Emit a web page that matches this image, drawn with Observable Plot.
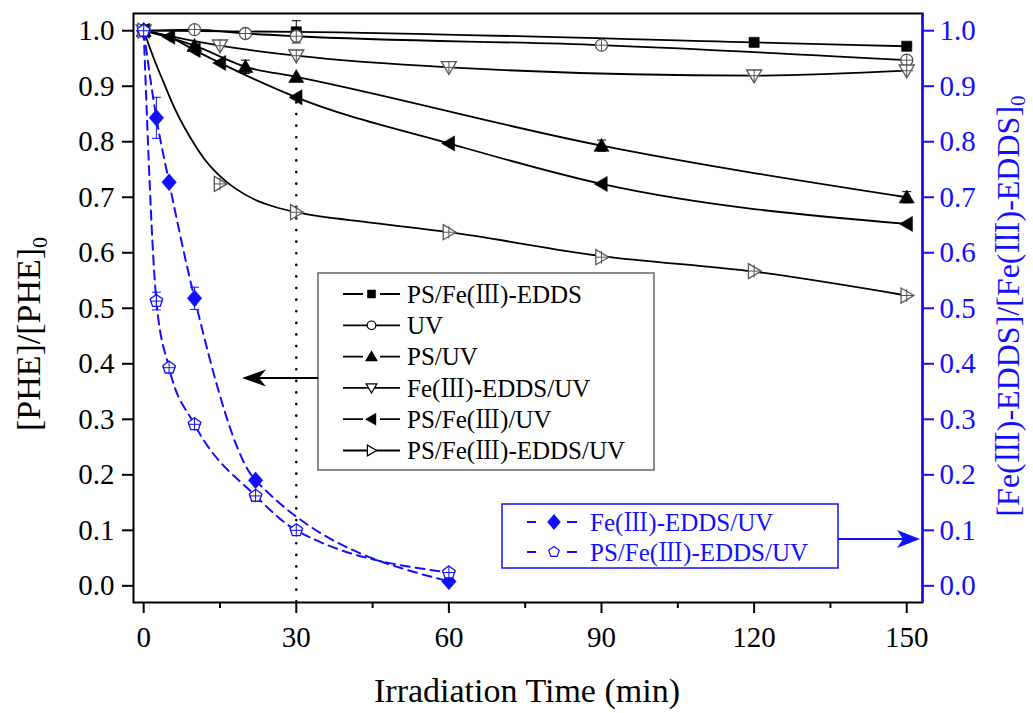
<!DOCTYPE html>
<html><head><meta charset="utf-8">
<script src="https://cdn.jsdelivr.net/npm/d3@7"></script>
<script src="https://cdn.jsdelivr.net/npm/@observablehq/plot@0.6"></script>
<style>
body{margin:0;background:#fff}
#chart{position:relative;width:1033px;height:713px}
</style>
</head><body><div id="chart"></div>
<script>
// ---------- tick labels ----------
const xTicks = [0, 30, 60, 90, 120, 150];
const xMinorTicks = [15, 45, 75, 105, 135];
const yTicks = [0, 0.1, 0.2, 0.3, 0.4, 0.5, 0.6, 0.7, 0.8, 0.9, 1.0];

// ---------- black series (left axis, [PHE]/[PHE]0) ----------
const psFeEddsT = [0, 30, 120, 150];
const psFeEddsV = [1.0, 0.998, 0.979, 0.972];
const psFeEddsE = [0, 0.02, 0, 0];

const uvT = [0, 10, 20, 30, 90, 150];
const uvV = [1.0, 1.002, 0.995, 0.990, 0.974, 0.947];
const uvE = [0, 0, 0, 0, 0, 0];

const psUvT = [0, 10, 20, 30, 90, 150];
const psUvV = [1.0, 0.973, 0.935, 0.917, 0.793, 0.700];
const psUvE = [0, 0, 0.012, 0, 0.01, 0.01];

const feEddsUvT = [0, 15, 30, 60, 120, 150];
const feEddsUvV = [1.0, 0.973, 0.955, 0.934, 0.919, 0.928];
const feEddsUvE = [0, 0, 0, 0, 0, 0];

const psFeUvT = [0, 5, 10, 15, 30, 60, 90, 150];
const psFeUvV = [1.0, 0.989, 0.965, 0.942, 0.880, 0.797, 0.724, 0.652];
const psFeUvE = [0, 0, 0, 0, 0, 0, 0, 0];

const psFeEddsUvT = [0, 15, 30, 60, 90, 120, 150];
const psFeEddsUvV = [1.0, 0.724, 0.673, 0.637, 0.592, 0.567, 0.523];
const psFeEddsUvE = [0, 0, 0, 0, 0, 0, 0];
// fitted curve of PS/Fe(III)-EDDS/UV
const psFeEddsUvFitT = [0, 2, 4, 6, 8, 10, 12, 14, 16, 18, 22, 26, 30, 45, 60, 90, 120, 150];
const psFeEddsUvFitV = [1.0, 0.95, 0.905, 0.862, 0.826, 0.795, 0.768, 0.747, 0.730, 0.716, 0.695, 0.682, 0.673, 0.654, 0.637, 0.594, 0.566, 0.523];

// ---------- blue series (right axis, [Fe(III)-EDDS]/[Fe(III)-EDDS]0) ----------
const bFeEddsUvT = [0, 2.5, 5, 10, 22, 60];
const bFeEddsUvV = [1.0, 0.843, 0.727, 0.518, 0.190, 0.008];
const bFeEddsUvE = [0, 0.037, 0, 0.02, 0, 0];

const bPsFeEddsUvT = [0, 2.5, 5, 10, 22, 30, 60];
const bPsFeEddsUvV = [1.0, 0.513, 0.393, 0.291, 0.162, 0.100, 0.024];
const bPsFeEddsUvE = [0, 0.016, 0, 0, 0, 0, 0];

// ---------- custom symbols ----------
const rOf = size => Math.sqrt(size / Math.PI);
const symSquare = {draw(c, s){const r=rOf(s)*0.85; c.moveTo(-r,-r); c.lineTo(r,-r); c.lineTo(r,r); c.lineTo(-r,r); c.closePath();}};
const symCircle = {draw(c, s){const r=rOf(s); c.moveTo(r,0); c.arc(0,0,r,0,2*Math.PI); c.closePath();}};
const symUp = {draw(c, s){const r=rOf(s); c.moveTo(0,-1.2*r); c.lineTo(1.25*r,0.95*r); c.lineTo(-1.25*r,0.95*r); c.closePath();}};
const symDown = {draw(c, s){const r=rOf(s); c.moveTo(0,1.2*r); c.lineTo(1.25*r,-0.95*r); c.lineTo(-1.25*r,-0.95*r); c.closePath();}};
const symLeft = {draw(c, s){const r=rOf(s); c.moveTo(-1.2*r,0); c.lineTo(0.95*r,-1.25*r); c.lineTo(0.95*r,1.25*r); c.closePath();}};
const symRight = {draw(c, s){const r=rOf(s); c.moveTo(1.2*r,0); c.lineTo(-0.95*r,-1.25*r); c.lineTo(-0.95*r,1.25*r); c.closePath();}};
const symDiamond = {draw(c, s){const r=rOf(s); c.moveTo(0,-1.4*r); c.lineTo(1.2*r,0); c.lineTo(0,1.4*r); c.lineTo(-1.2*r,0); c.closePath();}};
const symPent = {draw(c, s){const r=rOf(s)*1.1; for(let k=0;k<5;k++){const a=-Math.PI/2+k*2*Math.PI/5; const x=r*Math.cos(a), y=r*Math.sin(a); if(k===0) c.moveTo(x,y); else c.lineTo(x,y);} c.closePath();}};
const symHbar = {draw(c, s){const r=rOf(s); c.moveTo(-r,0); c.lineTo(r,0);}};

const BLUE = "#1010ff";
const GRAY = "#555";

const rowsOf = (T, V, E) => T.map((t, i) => ({t, v: V[i], e: E ? E[i] : 0}));

const blackSeries = [
  {name: "PS/Fe(Ⅲ)-EDDS", rows: rowsOf(psFeEddsT, psFeEddsV, psFeEddsE), sym: symSquare, filled: true},
  {name: "UV", rows: rowsOf(uvT, uvV, uvE), sym: symCircle, filled: false},
  {name: "PS/UV", rows: rowsOf(psUvT, psUvV, psUvE), sym: symUp, filled: true},
  {name: "Fe(Ⅲ)-EDDS/UV", rows: rowsOf(feEddsUvT, feEddsUvV, feEddsUvE), sym: symDown, filled: false},
  {name: "PS/Fe(Ⅲ)/UV", rows: rowsOf(psFeUvT, psFeUvV, psFeUvE), sym: symLeft, filled: true},
  {name: "PS/Fe(Ⅲ)-EDDS/UV", rows: rowsOf(psFeEddsUvT, psFeEddsUvV, psFeEddsUvE), sym: symRight, filled: false,
   fit: rowsOf(psFeEddsUvFitT, psFeEddsUvFitV)}
];
const blueSeries = [
  {name: "Fe(Ⅲ)-EDDS/UV", rows: rowsOf(bFeEddsUvT, bFeEddsUvV, bFeEddsUvE), sym: symDiamond, filled: true},
  {name: "PS/Fe(Ⅲ)-EDDS/UV", rows: rowsOf(bPsFeEddsUvT, bPsFeEddsUvV, bPsFeEddsUvE), sym: symPent, filled: false}
];

const xDomain = [-2, 153.1];
const yDomain = [-0.03, 1.031];
const FONT = "'Liberation Serif', 'Times New Roman', 'Noto Serif CJK SC', 'Noto Sans CJK SC', serif";
const TICK_FS = 29;

const marks = [];
// dotted guide at 30 min
marks.push(Plot.ruleX([30], {y1: 0.87, y2: yDomain[0], stroke: "black", strokeWidth: 2.6, strokeDasharray: "0.1 11.5", strokeLinecap: "round"}));
// black lines
for (const s of blackSeries) {
  marks.push(Plot.line(s.fit || s.rows, {x: "t", y: "v", curve: "monotone-x", stroke: "black", strokeWidth: 1.8}));
}
// blue dashed lines
for (const s of blueSeries) {
  marks.push(Plot.line(s.rows, {x: "t", y: "v", curve: "monotone-x", stroke: BLUE, strokeWidth: 2, strokeDasharray: "9 6"}));
}
function addMarkers(s, color, openStroke) {
  marks.push(Plot.dot(s.rows, {x: "t", y: "v", symbol: s.sym, r: 6,
    fill: s.filled ? color : "white", stroke: s.filled ? color : openStroke, strokeWidth: s.filled ? 0.6 : 1.3}));
  if (!s.filled) {
    marks.push(Plot.dot(s.rows, {x: "t", y: "v", symbol: "plus", r: 4.2, stroke: openStroke, strokeWidth: 1}));
  }
  const eb = s.rows.filter(d => d.e > 0);
  marks.push(Plot.ruleX(eb, {x: "t", y1: d => d.v - d.e, y2: d => d.v + d.e, stroke: color, strokeWidth: 1}));
  marks.push(Plot.dot(eb, {x: "t", y: d => d.v - d.e, symbol: symHbar, r: 4.5, fill: "none", stroke: color, strokeWidth: 1}));
  marks.push(Plot.dot(eb, {x: "t", y: d => d.v + d.e, symbol: symHbar, r: 4.5, fill: "none", stroke: color, strokeWidth: 1}));
}
for (const s of blackSeries) addMarkers(s, "black", GRAY);
for (const s of blueSeries) addMarkers(s, BLUE, BLUE);

// frame and axes
marks.push(Plot.frame({stroke: "black", strokeWidth: 2}));
marks.push(Plot.ruleX([xDomain[1]], {stroke: BLUE, strokeWidth: 2.5}));
marks.push(Plot.axisX({ticks: xTicks, tickSize: 11, tickPadding: 13, fontSize: TICK_FS, label: null, tickFormat: d => String(d), strokeWidth: 2}));
marks.push(Plot.axisX({ticks: xMinorTicks, tickSize: 6, label: null, tickFormat: () => "", strokeWidth: 2}));
marks.push(Plot.axisY({ticks: yTicks, tickSize: 11, tickPadding: 8, fontSize: TICK_FS, label: null, tickFormat: d3.format(".1f"), strokeWidth: 2}));
marks.push(Plot.axisY({anchor: "right", ticks: yTicks, tickSize: 11, tickPadding: 6, fontSize: TICK_FS, label: null, tickFormat: d3.format(".1f"), strokeWidth: 2, color: BLUE}));

const W = 1033, H = 713;
const svgNode = Plot.plot({
  width: W, height: H,
  marginLeft: 133, marginRight: 111, marginTop: 13, marginBottom: 111,
  x: {domain: xDomain},
  y: {domain: yDomain},
  style: {fontFamily: FONT, fontSize: TICK_FS + "px", background: "white", color: "black"},
  marks
});
document.getElementById("chart").appendChild(svgNode);

// ---------- annotations: titles, legends, arrows ----------
const svg = d3.select(svgNode);
const g = svg.append("g").attr("font-family", FONT).attr("text-anchor", "start");

// x title
g.append("text").attr("x", 527).attr("y", 702).attr("text-anchor", "middle")
  .attr("font-size", 34).attr("fill", "black").text("Irradiation Time (min)");
// left y title
const ly = g.append("text").attr("transform", "translate(40,334) rotate(-90)").attr("text-anchor", "middle")
  .attr("font-size", 34).attr("fill", "black");
ly.append("tspan").text("[PHE]/[PHE]");
ly.append("tspan").attr("dy", "0.3em").attr("font-size", 22).text("0");
// right y title
const ry = g.append("text").attr("transform", "translate(1019,306) rotate(-90)").attr("text-anchor", "middle")
  .attr("font-size", 32).attr("fill", BLUE);
ry.append("tspan").text("[Fe(Ⅲ)-EDDS]/[Fe(Ⅲ)-EDDS]");
ry.append("tspan").attr("dy", "0.3em").attr("font-size", 21).text("0");

const symPath = (sym, r) => d3.symbol(sym, Math.PI * r * r)();

// black legend
g.append("rect").attr("x", 318).attr("y", 273).attr("width", 336).attr("height", 197)
  .attr("fill", "white").attr("stroke", "#666").attr("stroke-width", 1.5);
blackSeries.forEach((s, i) => {
  const y = 294 + i * 31.3;
  g.append("line").attr("x1", 343).attr("x2", 400).attr("y1", y).attr("y2", y).attr("stroke", "black").attr("stroke-width", 1.8);
  if (s.filled) g.append("rect").attr("x", 363).attr("y", y - 7).attr("width", 17).attr("height", 14).attr("fill", "white");
  g.append("path").attr("d", symPath(s.sym, 4.3)).attr("transform", `translate(371.5,${y})`)
    .attr("fill", s.filled ? "black" : "white").attr("stroke", "black").attr("stroke-width", 1.2);
  g.append("text").attr("x", 407).attr("y", y).attr("dy", "0.35em").attr("text-anchor", "start")
    .attr("font-size", 25).attr("fill", "black").text(s.name);
});
// left arrow
g.append("line").attr("x1", 318).attr("x2", 255).attr("y1", 378).attr("y2", 378).attr("stroke", "black").attr("stroke-width", 1.8);
g.append("path").attr("d", "M242,378 L266,369.5 L259,378 L266,386.5 Z").attr("fill", "black");

// blue legend
g.append("rect").attr("x", 502).attr("y", 504).attr("width", 336).attr("height", 64)
  .attr("fill", "white").attr("stroke", BLUE).attr("stroke-width", 1.5);
blueSeries.forEach((s, i) => {
  const y = 522 + i * 30;
  g.append("line").attr("x1", 527).attr("x2", 536).attr("y1", y).attr("y2", y).attr("stroke", BLUE).attr("stroke-width", 2);
  g.append("line").attr("x1", 567).attr("x2", 577).attr("y1", y).attr("y2", y).attr("stroke", BLUE).attr("stroke-width", 2);
  g.append("path").attr("d", symPath(s.sym, 5)).attr("transform", `translate(554,${y})`)
    .attr("fill", s.filled ? BLUE : "white").attr("stroke", BLUE).attr("stroke-width", 1.2);
  g.append("text").attr("x", 590).attr("y", y).attr("dy", "0.35em").attr("text-anchor", "start")
    .attr("font-size", 25).attr("fill", BLUE).text(s.name);
});
// right arrow
g.append("line").attr("x1", 838).attr("x2", 906).attr("y1", 539).attr("y2", 539).attr("stroke", BLUE).attr("stroke-width", 2);
g.append("path").attr("d", "M920,539 L897,530 L903,539 L897,548 Z").attr("fill", BLUE);
</script>
</body></html>
